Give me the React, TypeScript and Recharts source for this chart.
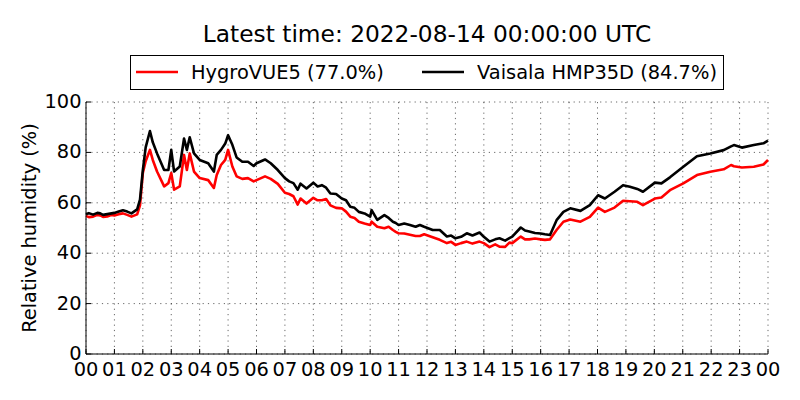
import React from 'react';
import { LineChart, Line, XAxis, YAxis, CartesianGrid, Legend } from 'recharts';

const FONT = '"DejaVu Sans", sans-serif';

const title = 'Latest time: 2022-08-14 00:00:00 UTC';
const yLabel = 'Relative humidity (%)';

const hours = [
  0.0, 0.1, 0.25, 0.4, 0.5, 0.6, 0.75, 0.9, 1.0, 1.15,
  1.3, 1.45, 1.6, 1.8, 1.9, 2.0, 2.1, 2.25, 2.35, 2.5,
  2.75, 2.9, 3.0, 3.1, 3.3, 3.45, 3.55, 3.65, 3.8, 4.0,
  4.3, 4.5, 4.6, 4.75, 4.9, 5.0, 5.15, 5.3, 5.5, 5.7,
  5.9, 6.0, 6.3, 6.5, 6.75, 7.0, 7.15, 7.3, 7.45, 7.55,
  7.76, 8.0, 8.15, 8.3, 8.45, 8.6, 8.8, 9.0, 9.15, 9.3,
  9.45, 9.6, 9.8, 10.0, 10.05, 10.25, 10.5, 10.65, 10.8, 10.9,
  11.0, 11.2, 11.4, 11.6, 11.75, 11.9, 12.2, 12.45, 12.7, 12.85,
  13.0, 13.2, 13.4, 13.6, 13.85, 14.0, 14.2, 14.4, 14.55, 14.75,
  14.9, 15.0, 15.3, 15.45, 15.6, 15.8, 16.0, 16.15, 16.33, 16.56,
  16.8, 17.04, 17.4, 17.73, 18.02, 18.26, 18.6, 18.9, 19.14, 19.4,
  19.6, 20.02, 20.25, 20.55, 21.02, 21.5, 21.97, 22.44, 22.7, 22.8,
  23.08, 23.5, 23.84, 24.0,
];

const hygroVue5 = [
  54.8, 54.3, 54.5, 55.2, 55.0, 54.4, 54.6, 55.2, 55.0, 55.5,
  55.8, 55.2, 54.5, 55.4, 59.0, 71.8, 76.5, 81.0, 77.0, 72.4,
  66.5, 67.8, 71.8, 65.2, 66.5, 79.0, 73.0, 79.6, 72.4, 69.8,
  69.0, 65.9, 71.0, 75.0, 77.0, 81.0, 74.4, 70.5, 69.5, 69.8,
  68.5, 69.0, 70.5, 69.5, 67.5, 64.0, 63.5, 62.6, 59.3, 61.7,
  59.7, 62.0, 61.0, 61.0, 61.5, 59.0, 58.0, 57.8, 56.5, 54.5,
  54.0, 52.5, 51.8, 51.2, 52.5, 50.5, 49.9, 50.5, 49.2, 48.5,
  47.9, 47.8, 47.3, 46.8, 46.8, 47.5, 46.3, 45.3, 44.0, 44.5,
  43.3, 44.0, 44.6, 43.8, 44.6, 44.0, 42.4, 43.5, 42.6, 42.5,
  44.2, 44.0, 46.6, 45.5, 45.5, 45.8, 45.5, 45.3, 45.5, 49.2,
  52.5, 53.4, 52.5, 54.4, 58.1, 56.4, 58.1, 60.8, 60.6, 60.4,
  59.1, 61.7, 62.1, 65.0, 67.7, 71.0, 72.3, 73.3, 75.0, 74.5,
  74.0, 74.3, 75.2, 77.0,
];

const vaisalaHMP35D = [
  55.6, 55.9, 55.3, 56.0, 55.8, 55.2, 55.5, 55.8, 56.0, 56.5,
  57.0, 56.5, 55.8, 57.4, 61.3, 73.0, 82.0, 88.5, 84.0, 79.6,
  73.0, 73.0, 81.0, 72.4, 74.4, 85.5, 81.0, 86.0, 79.6, 77.0,
  75.7, 72.4, 79.0, 81.0, 83.5, 86.8, 83.0, 78.0, 76.3, 76.3,
  74.6, 75.7, 77.2, 75.7, 73.0, 69.8, 68.5, 67.8, 65.2, 67.6,
  65.7, 68.0, 66.5, 67.0, 66.0, 63.7, 63.5, 61.7, 61.0, 58.4,
  58.0, 56.4, 55.8, 54.5, 57.1, 53.2, 55.1, 54.0, 52.5, 52.0,
  51.2, 51.8, 51.2, 50.5, 51.2, 50.5, 49.2, 49.2, 46.6, 47.0,
  45.9, 46.5, 47.9, 47.0, 48.2, 46.5, 44.6, 45.5, 45.9, 45.0,
  46.0, 46.6, 50.2, 49.0, 48.6, 48.0, 47.8, 47.5, 47.2, 53.1,
  56.4, 57.8, 56.8, 59.1, 63.0, 61.7, 64.4, 67.0, 66.4, 65.5,
  64.4, 68.0, 67.7, 70.1, 74.3, 78.5, 79.6, 80.9, 82.4, 82.9,
  81.9, 82.9, 83.6, 84.7,
];

const xTicks = [0, 1, 2, 3, 4, 5, 6, 7, 8, 9, 10, 11, 12, 13, 14, 15, 16, 17, 18, 19, 20, 21, 22, 23, 24];
const yTicks = [0, 20, 40, 60, 80, 100];

const seriesNames = ['HygroVUE5 (77.0%)', 'Vaisala HMP35D (84.7%)'];
const seriesColors = ['#ff0000', '#000000'];
const seriesKeys = ['hygro', 'vaisala'];

const data = hours.map((h, i) => ({ h, hygro: hygroVue5[i], vaisala: vaisalaHMP35D[i] }));

const pad2 = (v: number) => String(Math.round(v) % 24).padStart(2, '0');

const BottomTick = (props: any) => {
  const { x, y, payload } = props;
  return (
    <g>
      <line x1={x} x2={x} y1={y} y2={y - 5} stroke="#000" strokeWidth={1} />
      <text x={x} y={y + 21.5} textAnchor="middle" fontSize={19.4} fontFamily={FONT} fill="#000">
        {pad2(payload.value)}
      </text>
    </g>
  );
};

const TopTick = (props: any) => {
  const { x, y } = props;
  return <line x1={x} x2={x} y1={y} y2={y + 5} stroke="#000" strokeWidth={1} />;
};

const LeftTick = (props: any) => {
  const { x, y, payload } = props;
  return (
    <g>
      <line x1={x} x2={x + 5} y1={y} y2={y} stroke="#000" strokeWidth={1} />
      <text x={x - 4.5} y={y + 6} textAnchor="end" fontSize={19.4} fontFamily={FONT} fill="#000">
        {payload.value}
      </text>
    </g>
  );
};

const RightTick = (props: any) => {
  const { x, y } = props;
  return <line x1={x} x2={x - 5} y1={y} y2={y} stroke="#000" strokeWidth={1} />;
};

const legendOffsets = [0, 286];

const LegendBox = (props: any) => {
  const payload = (props.payload || []) as any[];
  return (
    <div style={{ width: 594, height: 35, boxSizing: 'border-box', border: '1px solid #000', background: '#fff' }}>
      <svg width={592} height={33} style={{ display: 'block' }}>
        {payload.map((p: any, i: number) => {
          const ox = legendOffsets[i] ?? 0;
          return (
            <g key={i}>
              <line x1={5 + ox} x2={47 + ox} y1={16} y2={16} stroke={p.color} strokeWidth={2.5} />
              <text x={60 + ox} y={22.5} fontSize={19.4} fontFamily={FONT} fill="#000">
                {p.value}
              </text>
            </g>
          );
        })}
      </svg>
    </div>
  );
};

export default function App() {
  return (
    <div style={{ position: 'absolute', left: 0, top: 0, width: 800, height: 400, background: '#fff' }}>
      <LineChart
        width={800}
        height={400}
        data={data}
        margin={{ top: 102, right: 32, bottom: 0, left: 0 }}
      >
        <text x={427} y={42} textAnchor="middle" fontSize={23.3} fontFamily={FONT} fill="#000">
          {title}
        </text>
        <text
          x={36}
          y={228}
          transform="rotate(-90, 36, 228)"
          textAnchor="middle"
          fontSize={19.4}
          fontFamily={FONT}
          fill="#000"
        >
          {yLabel}
        </text>
        <CartesianGrid stroke="#000" strokeWidth={0.6} strokeDasharray="1.2 4.1" />
        <XAxis
          dataKey="h"
          type="number"
          domain={[0, 24]}
          ticks={xTicks}
          interval={0}
          height={46}
          tickSize={0}
          tickMargin={0}
          tickLine={false}
          axisLine={{ stroke: '#000', strokeWidth: 1 }}
          tick={<BottomTick />}
        />
        <XAxis
          xAxisId="top"
          orientation="top"
          dataKey="h"
          type="number"
          domain={[0, 24]}
          ticks={xTicks}
          interval={0}
          height={0}
          tickSize={0}
          tickMargin={0}
          tickLine={false}
          axisLine={{ stroke: '#000', strokeWidth: 1 }}
          tick={<TopTick />}
        />
        <YAxis
          type="number"
          domain={[0, 100]}
          ticks={yTicks}
          interval={0}
          width={86}
          tickSize={0}
          tickMargin={0}
          tickLine={false}
          axisLine={{ stroke: '#000', strokeWidth: 1 }}
          tick={<LeftTick />}
        />
        <YAxis
          yAxisId="right"
          orientation="right"
          type="number"
          domain={[0, 100]}
          ticks={yTicks}
          interval={0}
          width={0}
          tickSize={0}
          tickMargin={0}
          tickLine={false}
          axisLine={{ stroke: '#000', strokeWidth: 1 }}
          tick={<RightTick />}
        />
        <Legend
          layout="horizontal"
          verticalAlign="middle"
          align="center"
          content={<LegendBox />}
          wrapperStyle={{ position: 'absolute', top: 55, left: 130, width: 594, height: 35 }}
        />
        {seriesKeys.map((k, i) => (
          <Line
            key={k}
            type="linear"
            dataKey={k}
            name={seriesNames[i]}
            stroke={seriesColors[i]}
            strokeWidth={2.6}
            strokeLinejoin="round"
            dot={false}
            activeDot={false}
            isAnimationActive={false}
          />
        ))}
      </LineChart>
    </div>
  );
}
